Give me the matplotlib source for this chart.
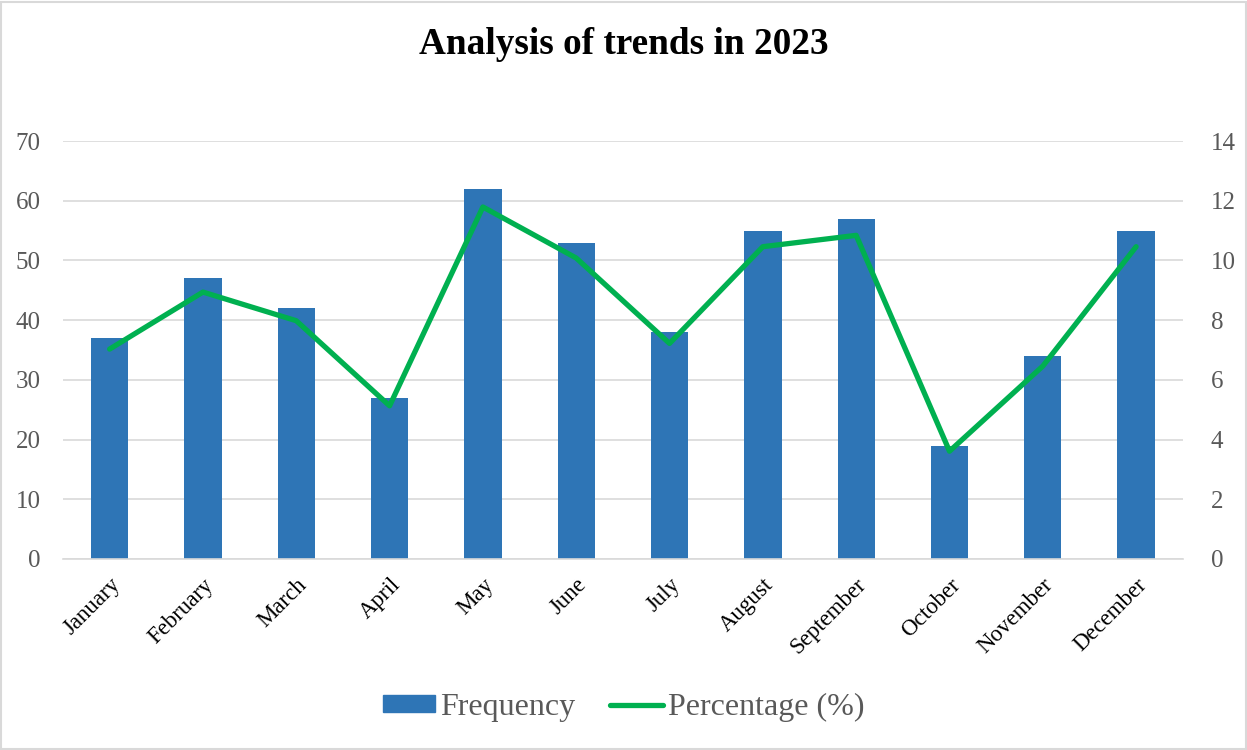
import numpy as np
import matplotlib.pyplot as plt
from matplotlib.patches import Rectangle
from matplotlib.lines import Line2D

months = ['January', 'February', 'March', 'April', 'May', 'June', 'July',
          'August', 'September', 'October', 'November', 'December']
frequency = [37, 47, 42, 27, 62, 53, 38, 55, 57, 19, 34, 55]
percentage = [7.03, 8.94, 7.98, 5.13, 11.79, 10.08, 7.22, 10.46, 10.84, 3.61, 6.46, 10.46]

plt.rcParams['font.family'] = ['Liberation Serif', 'DejaVu Serif']

fig = plt.figure(figsize=(12.47, 7.5), dpi=100)
fig.patches.append(Rectangle((0.001, 0.001), 0.998, 0.997, transform=fig.transFigure,
                             fill=False, edgecolor='#d9d9d9', lw=1.5))
ax = fig.add_axes([0.0505, 0.2547, 0.898, 0.5573])
ax2 = ax.twinx()

x = np.arange(len(months))
ax.bar(x, frequency, width=0.4, color='#2e75b6', zorder=2)
ax2.plot(x, percentage, color='#00b050', lw=3.8, solid_capstyle='round', zorder=3)

ax.set_xlim(-0.5, len(months) - 0.5)
ax.set_ylim(0, 70)
ax2.set_ylim(0, 14)
ax.set_yticks(range(0, 71, 10))
ax2.set_yticks(range(0, 15, 2))
ax.yaxis.grid(True, color='#d9d9d9', lw=1.2, zorder=0)
ax.set_axisbelow(True)

for a in (ax, ax2):
    for s in a.spines.values():
        s.set_visible(False)
    a.tick_params(axis='y', length=0, labelsize=18, labelcolor='#595959', pad=16)
ax2.tick_params(axis='y', pad=20)
ax.spines['bottom'].set_visible(True)
ax.spines['bottom'].set_color('#d9d9d9')
ax.spines['bottom'].set_linewidth(1.2)

ax.set_xticks(x)
ax.set_xticklabels(months, rotation=45, ha='right', rotation_mode='anchor', fontsize=16.5)
ax.tick_params(axis='x', length=0, pad=11)

fig.text(0.5, 0.94, 'Analysis of trends in 2023', ha='center', va='center',
         fontsize=26.8, fontweight='bold')

handles = [Rectangle((0, 0), 1, 1, color='#2e75b6'),
           Line2D([0], [0], color='#00b050', lw=3.8, solid_capstyle='round')]
fig.legend(handles, ['Frequency', 'Percentage (%)'], loc='center', bbox_to_anchor=(0.5, 0.057),
           ncol=2, frameon=False, fontsize=23, labelcolor='#595959',
           handlelength=1.65, handleheight=0.45, handletextpad=0.15, columnspacing=1.1)

fig.savefig('out.png', dpi=100)
